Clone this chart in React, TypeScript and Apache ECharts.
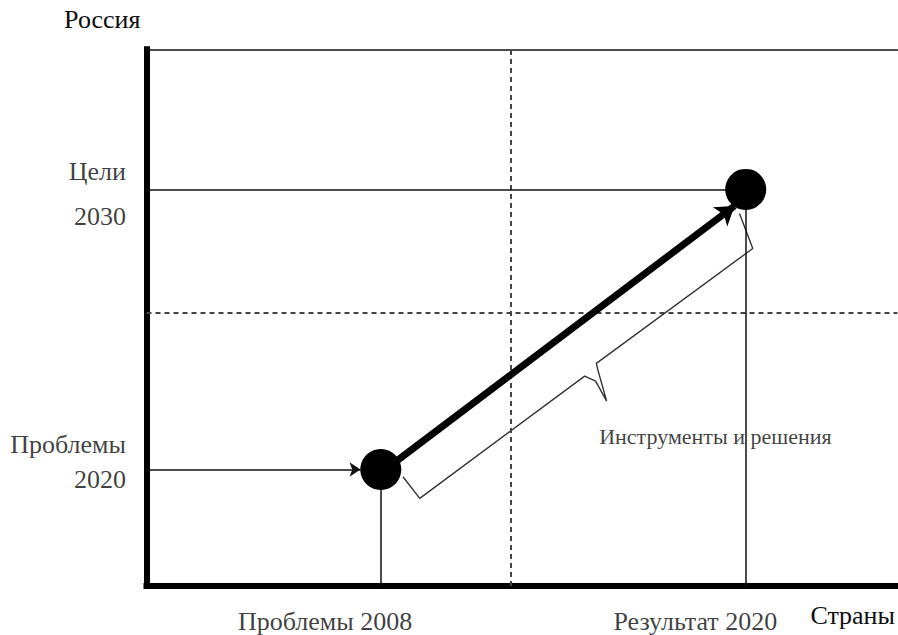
import React, { useEffect, useRef } from "react";
import * as echarts from "echarts";

// ---- data ----
const xRange = [0, 100];
const yRange = [0, 100];
const pointNames = ["Проблемы 2008", "Результат 2020"];
const pointX = [31.2, 79.8];
const pointY = [21.7, 73.9];
const yLabels = ["Проблемы\n2020", "Цели\n2030"];
const dashedX = 48.5;
const dashedY = 51;
const arrowStart = [33.5, 23.5];
const arrowEnd = [78.3, 70.8];
const inArrowEndX = 28.5;
const braceX = [34.16, 36.39, 58.35, 59.81, 61.28, 60.08, 59.91, 80.74, 78.97];
const braceY = [20.35, 16.33, 39.11, 38.18, 34.45, 40.41, 41.47, 62.89, 69.4];
const braceTipIndex = 4;
const braceLabel = "Инструменты и решения";
const xName = "Страны";
const yName = "Россия";

const FONT = '"Liberation Serif", "Times New Roman", serif';
const TEXT = "#0d0d0d";

export default function App() {
  const ref = useRef<HTMLDivElement>(null);
  useEffect(() => {
    if (!ref.current) return;
    const chart = echarts.init(ref.current, undefined, { renderer: "svg" });

    const thin = { color: "#111", width: 1.5, type: "solid" };
    const dashed = { color: "#444", width: 2, type: [5, 4] };

    const guideLines: any[] = [
      { xAxis: dashedX, lineStyle: dashed },
      { yAxis: dashedY, lineStyle: dashed },
    ];
    pointX.forEach((x, i) => {
      const y = pointY[i];
      if (i === 0) {
        guideLines.push([
          { coord: [xRange[0], y], lineStyle: thin },
          { coord: [inArrowEndX, y], symbol: "arrow", symbolSize: 11 },
        ]);
      } else {
        guideLines.push([{ coord: [xRange[0], y], lineStyle: thin }, { coord: [x, y] }]);
      }
      guideLines.push([{ coord: [x, yRange[0]], lineStyle: thin }, { coord: [x, y] }]);
    });
    guideLines.push([
      { coord: arrowStart, lineStyle: { color: "#000", width: 7, type: "solid" } },
      { coord: arrowEnd, symbol: "arrow", symbolSize: 18 },
    ]);

    const yLabelLayout = [
      { dy: -7, lh: 35 },
      { dy: 5.5, lh: 45 },
    ];

    const textItems: any[] = [];
    pointX.forEach((x, i) => {
      textItems.push({
        value: [x, yRange[0]],
        label: {
          show: true,
          formatter: pointNames[i],
          position: [32, 36],
          align: "right",
          verticalAlign: "middle",
        },
      });
    });
    pointY.forEach((y, i) => {
      textItems.push({
        value: [xRange[0], y],
        label: {
          show: true,
          formatter: yLabels[i],
          position: [-20, yLabelLayout[i].dy],
          align: "right",
          verticalAlign: "middle",
          lineHeight: yLabelLayout[i].lh,
        },
      });
    });
    textItems.push({
      value: [braceX[braceTipIndex], braceY[braceTipIndex]],
      label: {
        show: true,
        formatter: braceLabel,
        position: [-7, 36],
        align: "left",
        verticalAlign: "middle",
        fontSize: 22,
      },
    });

    const axisCommon = {
      type: "value",
      min: xRange[0],
      max: xRange[1],
      axisTick: { show: false },
      axisLabel: { show: false },
      splitLine: { show: false },
    };

    chart.setOption({
      animation: false,
      backgroundColor: "#ffffff",
      textStyle: { fontFamily: FONT },
      grid: { left: 146.5, right: 0, top: 49.3, bottom: 49 },
      xAxis: [
        {
          ...axisCommon,
          position: "bottom",
          axisLine: { show: true, onZero: false, lineStyle: { color: "#000", width: 6, cap: "square" } },
          name: xName,
          nameLocation: "end",
          nameGap: -87,
          nameTextStyle: {
            fontFamily: FONT,
            fontSize: 26,
            color: TEXT,
            align: "left",
            verticalAlign: "top",
            padding: [16, 0, 0, 0],
          },
        },
        {
          ...axisCommon,
          position: "top",
          axisLine: { show: true, onZero: false, lineStyle: { color: "#111", width: 1.5 } },
        },
      ],
      yAxis: {
        ...axisCommon,
        min: yRange[0],
        max: yRange[1],
        axisLine: { show: true, onZero: false, lineStyle: { color: "#000", width: 6, cap: "square" } },
        name: yName,
        nameLocation: "end",
        nameGap: 17,
        nameTextStyle: {
          fontFamily: FONT,
          fontSize: 26,
          color: TEXT,
          align: "right",
          verticalAlign: "bottom",
          padding: [0, 6, 0, 0],
        },
      },
      series: [
        {
          type: "line",
          name: "brace",
          data: braceX.map((x, i) => [x, braceY[i]]),
          showSymbol: false,
          silent: true,
          lineStyle: { color: "#333", width: 1.4 },
          z: 2,
          markLine: {
            silent: true,
            symbol: ["none", "none"],
            label: { show: false },
            emphasis: { disabled: true },
            data: guideLines,
          },
        },
        {
          type: "scatter",
          name: "points",
          data: pointX.map((x, i) => [x, pointY[i]]),
          symbol: "circle",
          symbolSize: 41,
          itemStyle: { color: "#000", opacity: 1 },
          silent: true,
          z: 5,
        },
        {
          type: "scatter",
          name: "texts",
          data: textItems,
          symbol: "circle",
          symbolSize: 1,
          itemStyle: { color: "rgba(0,0,0,0)" },
          silent: true,
          clip: false,
          label: { fontFamily: FONT, fontSize: 26, color: TEXT },
          z: 6,
        },
      ],
    });
    return () => chart.dispose();
  }, []);

  return (
    <div
      ref={ref}
      style={{ position: "fixed", left: 0, top: 0, width: 898, height: 635, background: "#fff" }}
    />
  );
}
